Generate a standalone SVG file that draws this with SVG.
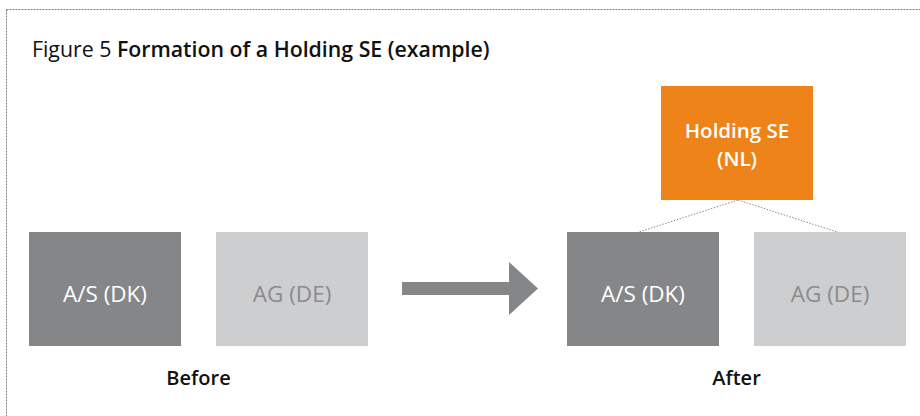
<svg xmlns="http://www.w3.org/2000/svg" width="920" height="416" viewBox="0 0 920 416">
<style>
text{font-family:"Open Sans","Noto Sans","Liberation Sans",sans-serif;font-size:20px}
.t{fill:#111}
.title{font-size:21.3px}
.sb{font-weight:600}
.bx{font-size:22.5px}
.hd{font-size:20.5px}
.w{fill:#ffffff}
.g{fill:#8a8b8d}
.dark{fill:#858688}
.light{fill:#cdced0}
.or{fill:#ee8419}
.dot{stroke:#8a8a8a;stroke-width:1;stroke-dasharray:1.5 1.5;fill:none}
</style>
<rect x="6.5" y="9.5" width="930" height="430" fill="none" stroke="#7a7a7a" stroke-width="1" stroke-dasharray="2 1"/>
<text class="t title" x="32" y="57"><tspan>Figure 5 </tspan><tspan class="sb">Formation of a Holding SE (example)</tspan></text>
<g id="connectors">
<line class="dot" x1="738" y1="200" x2="639" y2="232"/>
<line class="dot" x1="738" y1="200" x2="837" y2="232"/>
<polygon points="402,282 509,282 509,262 538,288.5 509,315 509,295 402,295" fill="#858688"/>
</g>
<g id="before-as">
<rect class="dark" x="29" y="232" width="152" height="114"/>
<text class="w bx" x="105" y="302" text-anchor="middle">A/S (DK)</text>
</g>
<g id="before-ag">
<rect class="light" x="216" y="232" width="152" height="114"/>
<text class="g bx" x="292" y="302" text-anchor="middle">AG (DE)</text>
</g>
<g id="holding">
<rect class="or" x="661" y="86" width="152" height="114"/>
<text class="w sb hd" x="737" y="138" text-anchor="middle">Holding SE</text>
<text class="w sb hd" x="737" y="166" text-anchor="middle">(NL)</text>
</g>
<g id="after-as">
<rect class="dark" x="567" y="232" width="152" height="114"/>
<text class="w bx" x="643" y="302" text-anchor="middle">A/S (DK)</text>
</g>
<g id="after-ag">
<rect class="light" x="754" y="232" width="152" height="114"/>
<text class="g bx" x="830" y="302" text-anchor="middle">AG (DE)</text>
</g>
<text class="t sb" x="198.5" y="384.5" text-anchor="middle">Before</text>
<text class="t sb" x="736.5" y="384.5" text-anchor="middle">After</text>
</svg>
